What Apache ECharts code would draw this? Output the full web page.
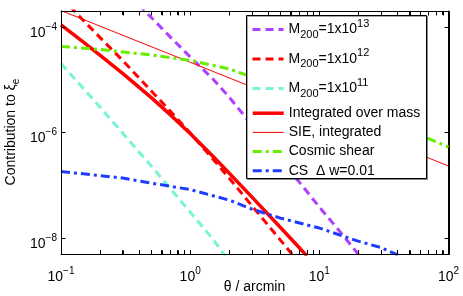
<!DOCTYPE html>
<html><head><meta charset="utf-8">
<script src="https://cdn.jsdelivr.net/npm/echarts@6/dist/echarts.min.js"></script>
<style>html,body{margin:0;padding:0;background:#fff}#c{width:463px;height:296px}</style>
</head><body><div id="c"></div>
<script>
// ---- data (theta in arcmin, contribution values) ----
const xM13 = [0.4, 0.5, 0.7, 1, 1.5, 2, 3, 5, 7, 10, 15, 20, 25];
const yM13 = [2.61e-4, 1.51e-4, 6.46e-5, 2.70e-5, 1.03e-5, 4.71e-6, 1.39e-6, 3.15e-7, 1.15e-7, 3.87e-8, 1.19e-8, 4.98e-9, 2.5e-9];

const xM12 = [0.1, 0.15, 0.2, 0.3, 0.5, 0.7, 1, 1.5, 2, 3, 5, 7];
const yM12 = [3.71e-4, 1.30e-4, 6.32e-5, 2.32e-5, 6.12e-6, 2.56e-6, 9.79e-7, 3.15e-7, 1.37e-7, 4.13e-8, 9.16e-9, 3.36e-9];

const xM11 = [0.1, 0.2, 0.5, 1, 1.5, 2];
const yM11 = [2.03e-5, 3.04e-6, 2.32e-7, 3.11e-8, 9.57e-9, 3.66e-9];

const xInt = [0.1, 0.15, 0.2, 0.3, 0.5, 0.7, 1, 1.5, 2, 3, 5, 7, 8];
const yInt = [1.09e-4, 5.08e-5, 2.93e-5, 1.32e-5, 4.57e-6, 2.18e-6, 9.53e-7, 3.54e-7, 1.71e-7, 6.04e-8, 1.59e-8, 6.55e-9, 4.60e-9];

const xSIE = [0.1, 1, 10, 100];
const ySIE = [2.04e-4, 2.14e-5, 2.24e-6, 2.32e-7];

const xCS = [0.1, 0.2, 0.5, 1, 2, 3, 5, 10, 20, 30, 50, 70, 100];
const yCS = [4.27e-5, 3.74e-5, 2.94e-5, 2.32e-5, 1.60e-5, 1.13e-5, 7.62e-6, 4.32e-6, 2.24e-6, 1.51e-6, 1.02e-6, 7.69e-7, 5.31e-7];

const xCSw = [0.1, 0.2, 0.3, 0.5, 1, 2, 3, 5, 10, 20, 30, 40, 50];
const yCSw = [1.82e-7, 1.53e-7, 1.37e-7, 1.10e-7, 8.30e-8, 5.25e-8, 3.55e-8, 2.39e-8, 1.55e-8, 8.77e-9, 6.61e-9, 4.86e-9, 3.55e-9];

// ---- axes / ticks ----
const xMin = 0.1, xMax = 100;
const yMin = 5e-9, yMax = 2e-4;
const xTickVals = [0.1,0.2,0.3,0.4,0.5,0.6,0.7,0.8,0.9,1,2,3,4,5,6,7,8,9,10,20,30,40,50,60,70,80,90,100];
const xLabelVals = [0.1, 1, 10, 100];
const yTickVals = [1e-8, 1e-6, 1e-4];
const yLabelVals = [1e-8, 1e-6, 1e-4];
const xTitle = '\u03b8 / arcmin';
const yTitleMain = 'Contribution to \u03be';
const yTitleSub = 'e';

const names = ['M200=1x10^13','M200=1x10^12','M200=1x10^11','Integrated over mass','SIE, integrated','Cosmic shear','CS  \u0394 w=0.01'];
const richNames = {
  'M200=1x10^13': '{m|M}{sub|200}{m|=1x10}{sup|13}',
  'M200=1x10^12': '{m|M}{sub|200}{m|=1x10}{sup|12}',
  'M200=1x10^11': '{m|M}{sub|200}{m|=1x10}{sup|11}'
};

const FONT = 'Liberation Sans, Arial, Helvetica, sans-serif';
const pairs = (xs, ys) => xs.map((x, i) => [x, ys[i]]);

function powLabel(v) {
  const e = Math.round(Math.log10(v));
  const s = e < 0 ? '\u2212' + Math.abs(e) : String(e);
  return '{b|10}{s|' + s + '}';
}
const labelRich = {
  b: { fontSize: 14, fontFamily: FONT, color: '#000', lineHeight: 18, verticalAlign: 'bottom' },
  s: { fontSize: 10, fontFamily: FONT, color: '#000', lineHeight: 18, verticalAlign: 'top' }
};

const chart = echarts.init(document.getElementById('c'), null, { renderer: 'canvas' });

const dash = [8, 5];
const dashDot = [9, 4, 3, 4];

const series = [
  { name: names[0], data: pairs(xM13, yM13), color: '#B040FF', width: 3, type: dash },
  { name: names[1], data: pairs(xM12, yM12), color: '#FF0000', width: 3, type: dash },
  { name: names[2], data: pairs(xM11, yM11), color: '#77F5D6', width: 3, type: dash },
  { name: names[3], data: pairs(xInt, yInt), color: '#FF0000', width: 3.5, type: 'solid' },
  { name: names[4], data: pairs(xSIE, ySIE), color: '#FF0000', width: 1, type: 'solid' },
  { name: names[5], data: pairs(xCS, yCS), color: '#66EE00', width: 3, type: dashDot },
  { name: names[6], data: pairs(xCSw, yCSw), color: '#1E3CFF', width: 3, type: dashDot }
].map(s => ({
  type: 'line', name: s.name, data: s.data, showSymbol: false, symbol: 'none',
  smooth: false, clip: true, color: s.color, z: 2,
  lineStyle: { color: s.color, width: s.width, type: s.type, cap: 'butt', join: 'round' },
  emphasis: { disabled: true }
}));

function legendData(list) {
  return list.map(n => {
    const s = series.find(q => q.name === n);
    return {
      name: n,
      lineStyle: { width: s.lineStyle.width, type: s.lineStyle.type, color: s.color },
      itemStyle: { color: 'rgba(0,0,0,0)', borderColor: 'rgba(0,0,0,0)', borderWidth: 0, opacity: 0 }
    };
  });
}

const legendText = {
  fontFamily: FONT, fontSize: 14, color: '#000',
  rich: {
    m: { fontSize: 14, fontFamily: FONT, color: '#000', lineHeight: 22, verticalAlign: 'middle' },
    sub: { fontSize: 11, fontFamily: FONT, color: '#000', lineHeight: 22, verticalAlign: 'bottom' },
    sup: { fontSize: 11, fontFamily: FONT, color: '#000', lineHeight: 22, verticalAlign: 'top' },
    n: { fontSize: 14, fontFamily: FONT, color: '#000', lineHeight: 16 }
  }
};
const legendFmt = n => richNames[n] ? richNames[n] : '{n|' + n + '}';

const baseGraphic = [{
  type: 'rect', z: 50,
  shape: { x: 246.5, y: 15.5, width: 180, height: 163 },
  style: { fill: '#fff', stroke: '#000', lineWidth: 1, shadowColor: 'rgba(0,0,0,0.35)', shadowOffsetX: 1, shadowOffsetY: 1, shadowBlur: 0 }
}, {
  type: 'text', z: 50, x: 254.5, y: 287,
  style: { text: xTitle, fontSize: 14, fontFamily: FONT, fill: '#000', align: 'center', verticalAlign: 'middle' }
}, {
  type: 'text', z: 50, x: 11, y: 132, rotation: Math.PI / 2,
  style: {
    text: '{a|' + yTitleMain + '}{e|' + yTitleSub + '}', fontSize: 14, fontFamily: FONT, fill: '#000',
    align: 'center', verticalAlign: 'middle',
    rich: {
      a: { fontSize: 14, fontFamily: FONT, fill: '#000', lineHeight: 20, verticalAlign: 'middle' },
      e: { fontSize: 10, fontFamily: FONT, fill: '#000', lineHeight: 20, verticalAlign: 'bottom' }
    }
  }
}];

const option = {
  animation: false,
  backgroundColor: '#fff',
  textStyle: { fontFamily: FONT },
  grid: { left: 61, right: 14.5, top: 11, bottom: 42, containLabel: false },
  xAxis: [{
    type: 'log', logBase: 10, min: xMin, max: xMax, position: 'bottom',
    axisLine: { show: true, onZero: false, lineStyle: { color: '#000', width: 1 } },
    axisTick: { show: true, inside: true, length: 4, customValues: xTickVals, lineStyle: { color: '#000', width: 1 } },
    axisLabel: { show: true, customValues: xLabelVals, formatter: powLabel, rich: labelRich, margin: 12, color: '#000' },
    splitLine: { show: false }, minorTick: { show: false }
  }, {
    type: 'log', logBase: 10, min: xMin, max: xMax, position: 'top',
    axisLine: { show: true, onZero: false, lineStyle: { color: '#000', width: 1 } },
    axisTick: { show: true, inside: true, length: 4, customValues: xTickVals, lineStyle: { color: '#000', width: 1 } },
    axisLabel: { show: false }, splitLine: { show: false }
  }],
  yAxis: [{
    type: 'log', logBase: 10, min: yMin, max: yMax, position: 'left',
    axisLine: { show: true, onZero: false, lineStyle: { color: '#000', width: 1 } },
    axisTick: { show: true, inside: true, length: 4, customValues: yTickVals, lineStyle: { color: '#000', width: 1 } },
    axisLabel: { show: true, customValues: yLabelVals, formatter: powLabel, rich: labelRich, margin: 4, padding: [8, 0, 0, 0], color: '#000' },
    splitLine: { show: false }, minorTick: { show: false }
  }, {
    type: 'log', logBase: 10, min: yMin, max: yMax, position: 'right',
    axisLine: { show: true, onZero: false, lineStyle: { color: '#000', width: 1 } },
    axisTick: { show: true, inside: true, length: 4, customValues: yTickVals, lineStyle: { color: '#000', width: 1 } },
    axisLabel: { show: false }, splitLine: { show: false }
  }],
  graphic: baseGraphic,
  legend: [{
    z: 60, orient: 'vertical', left: 251, top: 18.4, padding: 0, itemGap: 7.5,
    itemWidth: 31, itemHeight: 14,
    data: legendData(names.slice(0, 3)), formatter: legendFmt, textStyle: legendText,
    selectedMode: false
  }, {
    z: 60, orient: 'vertical', left: 251, top: 106.2, padding: 0, itemGap: 5.2,
    itemWidth: 31, itemHeight: 14,
    data: legendData(names.slice(3)), formatter: legendFmt, textStyle: legendText,
    selectedMode: false
  }],
  series: series
};
chart.setOption(option);

// Frame and inward ticks placed through the chart's own axis scales
const xPx = v => chart.convertToPixel({ xAxisIndex: 0 }, v);
const yPx = v => chart.convertToPixel({ yAxisIndex: 0 }, v);
const L = Math.round(xPx(xMin)) + 0.5, R = Math.round(xPx(xMax)) + 0.5;
const T = Math.round(yPx(yMax)) + 0.5, B = Math.round(yPx(yMin)) + 0.5;
const frameEls = [{
  type: 'rect', z: 40, silent: true,
  shape: { x: L, y: T, width: R - L, height: B - T },
  style: { fill: 'none', stroke: '#000', lineWidth: 1 }
}];
const tl = (x1, y1, x2, y2) => ({ type: 'line', z: 40, silent: true, shape: { x1, y1, x2, y2 }, style: { stroke: '#000', lineWidth: 1 } });
xTickVals.forEach(v => {
  const x = Math.round(xPx(v)) + 0.5;
  frameEls.push(tl(x, B, x, B - 4));
  frameEls.push(tl(x, T, x, T + 4));
});
yTickVals.forEach(v => {
  const y = Math.round(yPx(v)) + 0.5;
  frameEls.push(tl(L, y, L + 4, y));
  frameEls.push(tl(R, y, R - 4, y));
});
chart.setOption({ graphic: baseGraphic.concat(frameEls) });
</script>
</body></html>
